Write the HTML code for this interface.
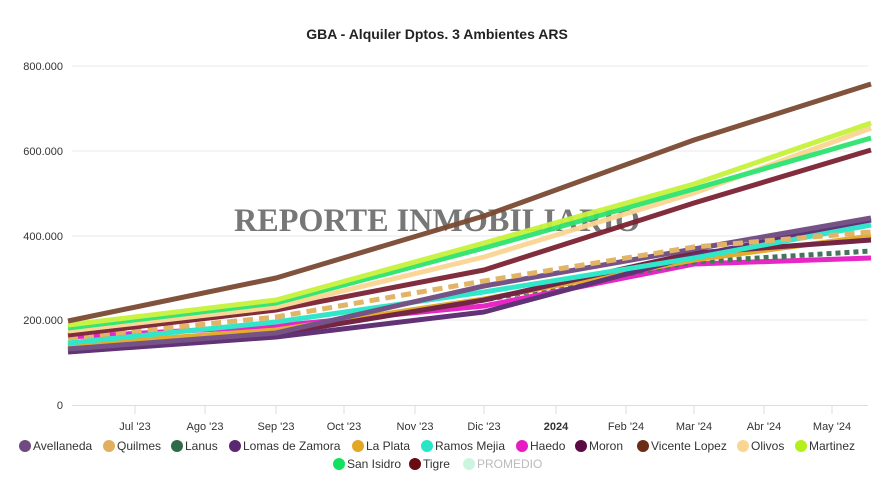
<!DOCTYPE html>
<html><head><meta charset="utf-8"><style>
body{margin:0;background:#fff;font-family:"Liberation Sans",Arial,sans-serif}
</style></head><body>
<svg width="879" height="485" xmlns="http://www.w3.org/2000/svg" font-family="Liberation Sans, Arial, sans-serif">
<rect width="879" height="485" fill="#fff"/>
<text x="437" y="39" text-anchor="middle" font-size="14" font-weight="bold" fill="#222">GBA - Alquiler Dptos. 3 Ambientes ARS</text>
<g stroke="#e8e8e8" stroke-width="1">
<line x1="72" y1="66" x2="868" y2="66"/><line x1="72" y1="151" x2="868" y2="151"/><line x1="72" y1="236" x2="868" y2="236"/><line x1="72" y1="320" x2="868" y2="320"/>
</g>
<line x1="72" y1="405.5" x2="868" y2="405.5" stroke="#ddd"/>
<g stroke="#ddd"><line x1="135" y1="406" x2="135" y2="414"/><line x1="205" y1="406" x2="205" y2="414"/><line x1="276" y1="406" x2="276" y2="414"/><line x1="344" y1="406" x2="344" y2="414"/><line x1="415" y1="406" x2="415" y2="414"/><line x1="484" y1="406" x2="484" y2="414"/><line x1="556" y1="406" x2="556" y2="414"/><line x1="626" y1="406" x2="626" y2="414"/><line x1="694" y1="406" x2="694" y2="414"/><line x1="764" y1="406" x2="764" y2="414"/><line x1="832" y1="406" x2="832" y2="414"/></g>
<g font-size="11" fill="#333" text-anchor="end">
<text x="63" y="70">800.000</text><text x="63" y="155">600.000</text><text x="63" y="240">400.000</text><text x="63" y="324">200.000</text><text x="63" y="409">0</text>
</g>
<g font-size="11" fill="#333" text-anchor="middle">
<text x="135" y="430">Jul '23</text><text x="205" y="430">Ago '23</text><text x="276" y="430">Sep '23</text><text x="344" y="430">Oct '23</text><text x="415" y="430">Nov '23</text><text x="484" y="430">Dic '23</text><text x="556" y="430" font-weight="bold">2024</text><text x="626" y="430">Feb '24</text><text x="694" y="430">Mar '24</text><text x="764" y="430">Abr '24</text><text x="832" y="430">May '24</text>
</g>
<text x="234" y="231" font-family="Liberation Serif, serif" font-size="33" font-weight="bold" fill="#777" textLength="406" lengthAdjust="spacingAndGlyphs">REPORTE INMOBILIARIO</text>
<g fill="none" stroke-width="5" stroke-linejoin="round" opacity="0.95">
<polyline stroke="#e61bc4" points="68,337 276,326 484,306 694,264 871,258"/>
<polyline stroke="#3b6e52" stroke-dasharray="5,4" points="68,346 276,331 484,300 694,262 871,251"/>
<polyline stroke="#e2a825" points="68,345 276,330 484,299 694,260 871,236"/>
<polyline stroke="#6c1a3c" points="68,350 276,334 484,300 694,253 871,240"/>
<polyline stroke="#5a2870" points="68,352 276,337 484,312 694,256 871,220"/>
<polyline stroke="#27e6c8" points="68,343 276,322 484,292 694,258 871,225"/>
<polyline stroke="#6e4a80" points="68,349 276,333 484,286 694,249 871,218"/>
<polyline stroke="#e0b060" stroke-dasharray="10,6" points="68,338 276,317 484,281 694,247 871,232"/>
<polyline stroke="#7b2233" points="68,335 276,310 484,270 694,203 871,150"/>
<polyline stroke="#fad592" points="68,331 276,307 484,257 694,193 871,128"/>
<polyline stroke="#2de36f" points="68,328 276,303 484,248 694,189 871,138"/>
<polyline stroke="#c6f23a" points="68,325 276,300 484,243 694,184 871,123"/>
<polyline stroke="#7b4a32" points="68,321 276,278 484,216 694,140 871,84"/>
</g>
<g font-size="12" fill="#333">
<circle cx="25" cy="446" r="6" fill="#6e4a80"/><text x="33" y="450">Avellaneda</text>
<circle cx="109" cy="446" r="6" fill="#e0b060"/><text x="117" y="450">Quilmes</text>
<circle cx="177" cy="446" r="6" fill="#2f6b4a"/><text x="185" y="450">Lanus</text>
<circle cx="235" cy="446" r="6" fill="#5a2870"/><text x="243" y="450">Lomas de Zamora</text>
<circle cx="358" cy="446" r="6" fill="#e2a825"/><text x="366" y="450">La Plata</text>
<circle cx="427" cy="446" r="6" fill="#27e6c8"/><text x="435" y="450">Ramos Mejia</text>
<circle cx="522" cy="446" r="6" fill="#e61bc4"/><text x="530" y="450">Haedo</text>
<circle cx="581" cy="446" r="6" fill="#5a0a44"/><text x="589" y="450">Moron</text>
<circle cx="643" cy="446" r="6" fill="#6a2e16"/><text x="651" y="450">Vicente Lopez</text>
<circle cx="743" cy="446" r="6" fill="#fad592"/><text x="751" y="450">Olivos</text>
<circle cx="801" cy="446" r="6" fill="#b4f01a"/><text x="809" y="450">Martinez</text>
<circle cx="339" cy="464" r="6" fill="#14e060"/><text x="347" y="468">San Isidro</text>
<circle cx="415" cy="464" r="6" fill="#6a0a14"/><text x="423" y="468">Tigre</text>
<circle cx="469" cy="464" r="6" fill="#ccf5e0"/><text x="477" y="468" fill="#bbb">PROMEDIO</text>
</g>
</svg>
</body></html>
